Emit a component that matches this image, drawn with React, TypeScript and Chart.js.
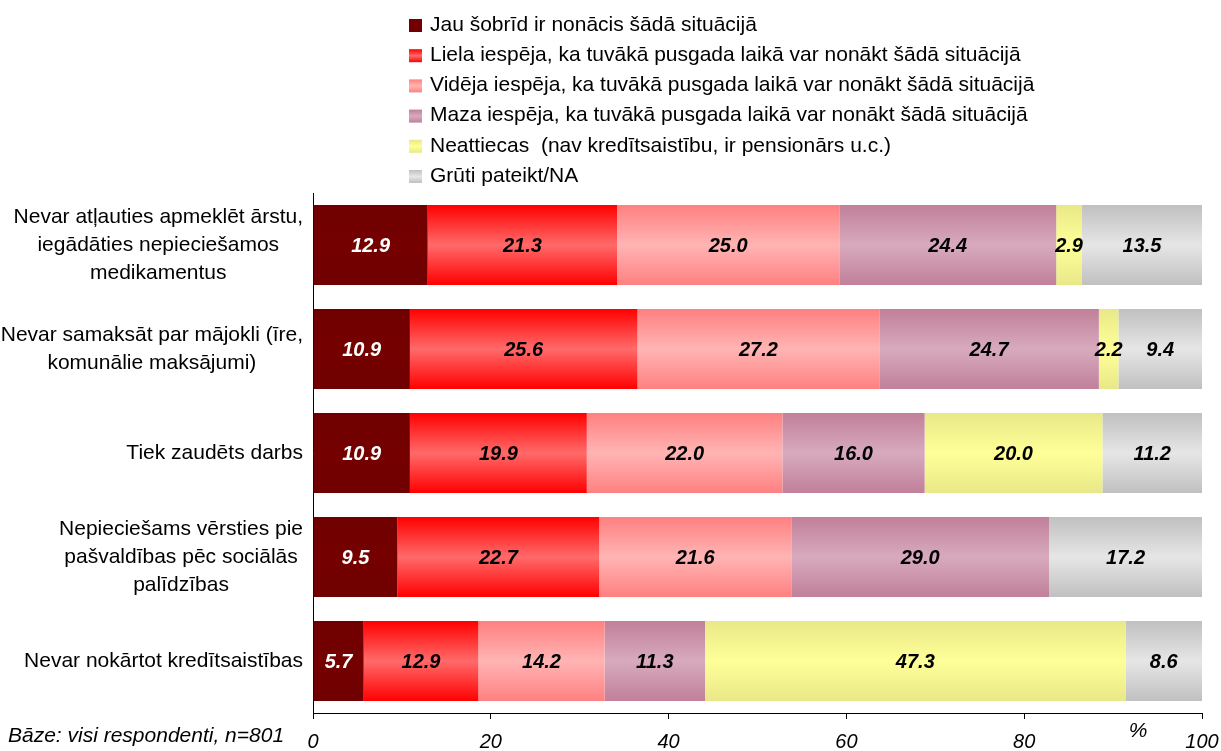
import React, { useEffect, useRef } from "react";
import { Chart, registerables } from "chart.js";

Chart.register(...registerables);

const categories: string[][] = [
  ["Nevar atļauties apmeklēt ārstu,", "iegādāties nepieciešamos", "medikamentus"],
  ["Nevar samaksāt par mājokli (īre,", "komunālie maksājumi)"],
  ["Tiek zaudēts darbs"],
  ["Nepieciešams vērsties pie", "pašvaldības pēc sociālās", "palīdzības"],
  ["Nevar nokārtot kredītsaistības"],
];

const seriesNames = [
  "Jau šobrīd ir nonācis šādā situācijā",
  "Liela iespēja, ka tuvākā pusgada laikā var nonākt šādā situācijā",
  "Vidēja iespēja, ka tuvākā pusgada laikā var nonākt šādā situācijā",
  "Maza iespēja, ka tuvākā pusgada laikā var nonākt šādā situācijā",
  "Neattiecas  (nav kredītsaistību, ir pensionārs u.c.)",
  "Grūti pateikt/NA",
];

const alreadyIn = [12.9, 10.9, 10.9, 9.5, 5.7];
const highChance = [21.3, 25.6, 19.9, 22.7, 12.9];
const mediumChance = [25.0, 27.2, 22.0, 21.6, 14.2];
const lowChance = [24.4, 24.7, 16.0, 29.0, 11.3];
const notApplicable: (number | null)[] = [2.9, 2.2, 20.0, null, 47.3];
const hardToSay = [13.5, 9.4, 11.2, 17.2, 8.6];

const seriesValues = [alreadyIn, highChance, mediumChance, lowChance, notApplicable, hardToSay];

const edgeColors = ["#700000", "#ff0000", "#ff8080", "#c0809a", "#e8e888", "#c0c0c0"];
const centerColors = ["#750000", "#ff6a6a", "#ffb4b4", "#d8aabd", "#ffff99", "#e6e6e6"];
const labelColors = ["#ffffff", "#000000", "#000000", "#000000", "#000000", "#000000"];

const xTickStep = 20;
const baseNote = "Bāze: visi respondenti, n=801";
const unitLabel = "%";

const FONT = "'Liberation Sans', Arial, sans-serif";
const CAT_PCT = 0.77;

function makeGradient(ctx: CanvasRenderingContext2D, y0: number, y1: number, i: number) {
  const g = ctx.createLinearGradient(0, y0, 0, y1);
  g.addColorStop(0, edgeColors[i]);
  g.addColorStop(0.5, centerColors[i]);
  g.addColorStop(1, edgeColors[i]);
  return g;
}

const fillFor = (i: number) => (c: any) => {
  const chart = c.chart;
  const ys = chart.scales && chart.scales.y;
  if (!ys || c.type !== "data" || !chart.chartArea) return edgeColors[i];
  const center = ys.getPixelForValue(c.dataIndex);
  const step = Math.abs(ys.getPixelForValue(1) - ys.getPixelForValue(0));
  const half = (step * CAT_PCT) / 2;
  return makeGradient(chart.ctx, center - half, center + half, i);
};

const decorPlugin = {
  id: "decor",
  afterDatasetsDraw(chart: any) {
    const ctx: CanvasRenderingContext2D = chart.ctx;
    ctx.save();
    ctx.font = `italic bold 20px ${FONT}`;
    ctx.textAlign = "center";
    ctx.textBaseline = "middle";
    chart.data.datasets.forEach((ds: any, di: number) => {
      const meta = chart.getDatasetMeta(di);
      meta.data.forEach((el: any, idx: number) => {
        const v = ds.data[idx];
        if (v === null || v === undefined) return;
        ctx.fillStyle = labelColors[di];
        ctx.fillText(v.toFixed(1), (el.x + el.base) / 2, el.y + 1);
      });
    });
    ctx.restore();
  },
  afterDraw(chart: any) {
    const ctx: CanvasRenderingContext2D = chart.ctx;
    const area = chart.chartArea;
    const ys = chart.scales.y;
    const xs = chart.scales.x;
    ctx.save();
    ctx.font = `21px ${FONT}`;
    ctx.fillStyle = "#000";
    ctx.textAlign = "center";
    ctx.textBaseline = "middle";
    const lh = 28;
    categories.forEach((lines, i) => {
      const cy = ys.getPixelForValue(i);
      const w = Math.max(...lines.map((l) => ctx.measureText(l).width));
      const cx = area.left - 10 - w / 2;
      lines.forEach((l, j) => {
        ctx.fillText(l, cx, cy + (j - (lines.length - 1) / 2) * lh);
      });
    });
    ctx.textAlign = "left";
    const lx = 409;
    const ly0 = 25;
    const lstep = 30.2;
    seriesNames.forEach((name, i) => {
      const y = ly0 + i * lstep;
      ctx.fillStyle = makeGradient(ctx, y - 6, y + 7, i);
      ctx.fillRect(lx, y - 6, 13, 13);
      ctx.fillStyle = "#000";
      ctx.fillText(name, lx + 21, y);
    });
    ctx.font = `italic 21px ${FONT}`;
    ctx.fillText(baseNote, 8, 736);
    ctx.textAlign = "center";
    ctx.fillText(unitLabel, xs.getPixelForValue(92.8), 731);
    ctx.restore();
  },
};

export default function App() {
  const ref = useRef<HTMLCanvasElement | null>(null);
  useEffect(() => {
    if (!ref.current) return;
    const chart = new Chart(ref.current, {
      type: "bar",
      data: {
        labels: categories,
        datasets: seriesValues.map((vals, i) => ({
          label: seriesNames[i],
          data: vals,
          backgroundColor: fillFor(i),
          borderWidth: 0,
          categoryPercentage: CAT_PCT,
          barPercentage: 1,
        })),
      },
      options: {
        indexAxis: "y",
        animation: false,
        responsive: true,
        maintainAspectRatio: false,
        layout: { padding: { left: 313, right: 19, top: 193, bottom: 0 } },
        plugins: { legend: { display: false }, tooltip: { enabled: false } },
        scales: {
          x: {
            stacked: true,
            min: 0,
            max: 100,
            ticks: {
              stepSize: xTickStep,
              color: "#000",
              font: { family: FONT, size: 20, style: "italic" },
              padding: 11,
              maxRotation: 0,
            },
            grid: { display: true, drawOnChartArea: false, drawTicks: true, tickLength: 6, color: "#000" },
            border: { display: true, color: "#000", width: 1 },
            afterFit: (s: any) => {
              s.height = 38;
              s.paddingLeft = 0;
              s.paddingRight = 0;
            },
          },
          y: {
            stacked: true,
            ticks: { display: false },
            grid: { display: false, drawTicks: false },
            border: { display: true, color: "#000", width: 1 },
          },
        },
      },
      plugins: [decorPlugin],
    } as any);
    return () => chart.destroy();
  }, []);
  return (
    <div style={{ position: "absolute", left: 0, top: 0, width: 1221, height: 751, background: "#fff" }}>
      <canvas ref={ref} />
    </div>
  );
}
